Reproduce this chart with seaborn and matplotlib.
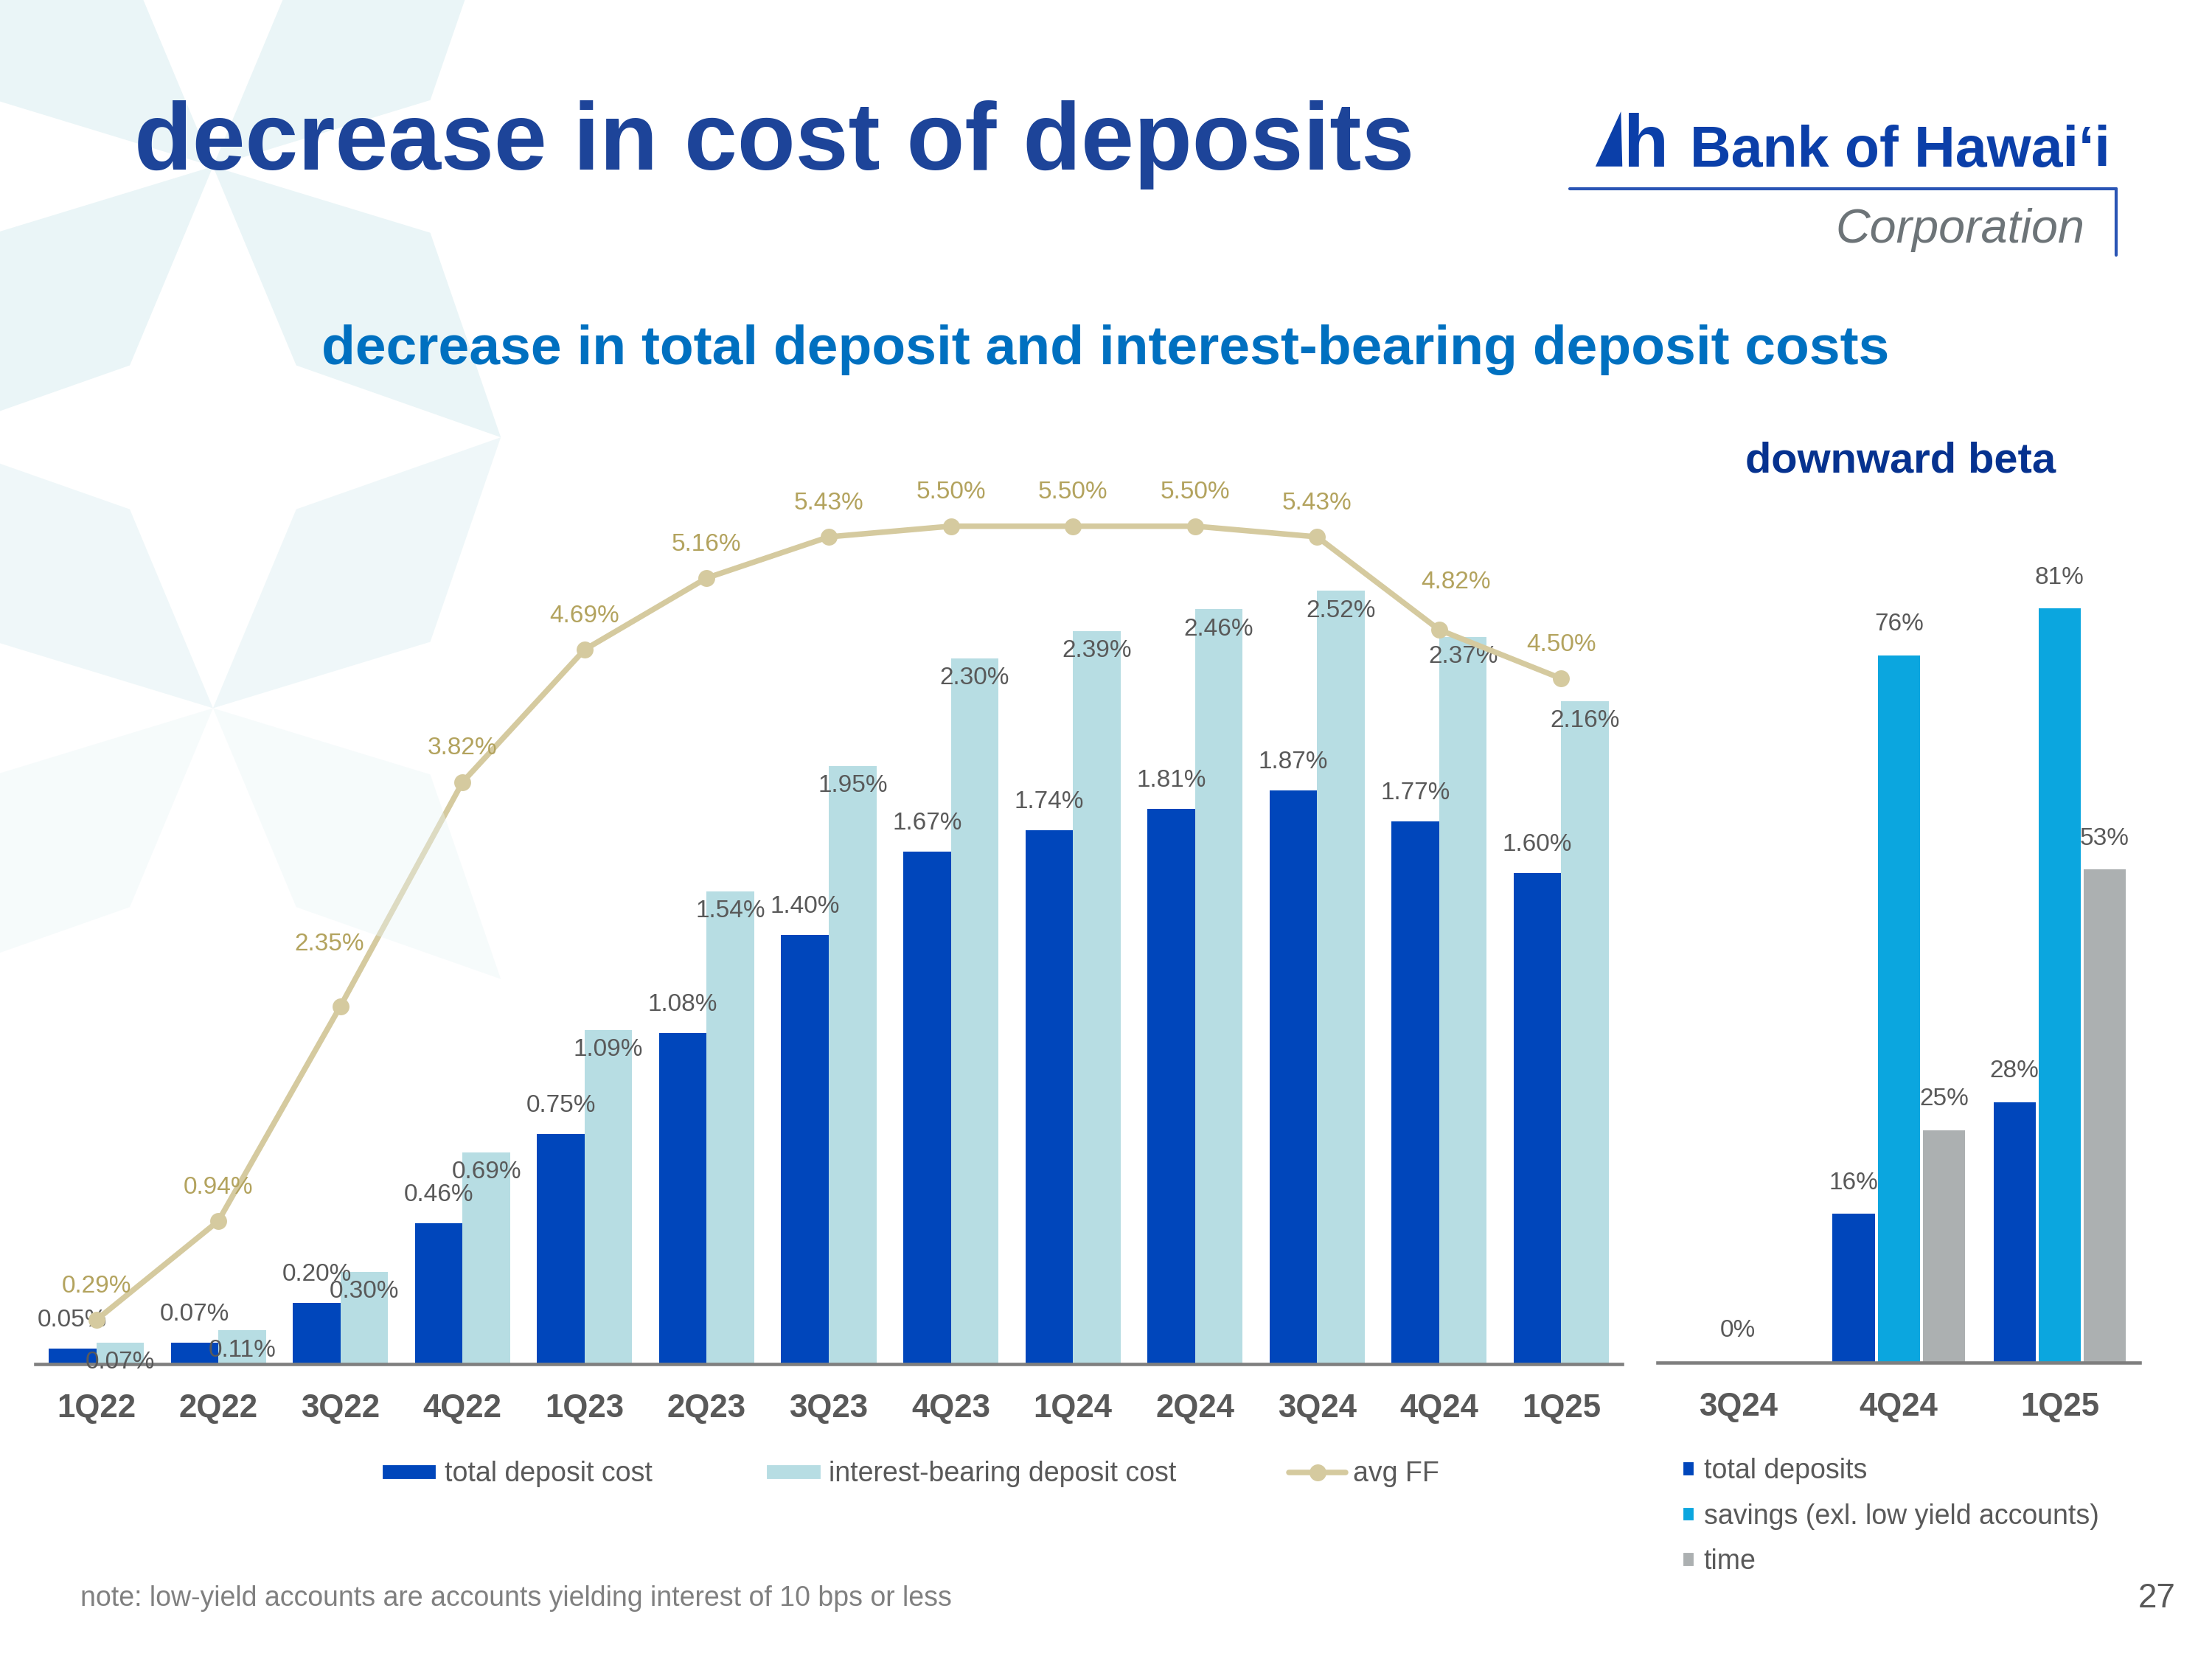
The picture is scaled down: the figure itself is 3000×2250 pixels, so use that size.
import matplotlib
matplotlib.use("Agg")
import matplotlib.pyplot as plt
from matplotlib.patches import Polygon, Patch
from matplotlib.lines import Line2D
import numpy as np
import pandas as pd
import seaborn as sns

# data
quarters = ['1Q22', '2Q22', '3Q22', '4Q22', '1Q23', '2Q23', '3Q23',
            '4Q23', '1Q24', '2Q24', '3Q24', '4Q24', '1Q25']
total_cost = [0.05, 0.07, 0.20, 0.46, 0.75, 1.08, 1.40, 1.67, 1.74, 1.81, 1.87, 1.77, 1.60]
ib_cost = [0.07, 0.11, 0.30, 0.69, 1.09, 1.54, 1.95, 2.30, 2.39, 2.46, 2.52, 2.37, 2.16]
avg_ff = [0.29, 0.94, 2.35, 3.82, 4.69, 5.16, 5.43, 5.50, 5.50, 5.50, 5.43, 4.82, 4.50]

beta_quarters = ['3Q24', '4Q24', '1Q25']
beta_total = [0, 16, 28]
beta_savings = [0, 76, 81]
beta_time = [0, 25, 53]

cost_series = ['total deposit cost', 'interest-bearing deposit cost']
beta_series = ['total deposits', 'savings (exl. low yield accounts)', 'time']

DARK = '#0046BB'
LIGHT = '#B7DDE3'
FF_LINE = '#D5CA9F'
FF_TEXT = '#B3A35E'
SAV = '#0BA6DF'
TIME = '#ACB0B1'
GRAY = '#595959'

sns.set_theme(style='white')
plt.rcParams['font.family'] = ['Liberation Sans', 'DejaVu Sans']

fig = plt.figure(figsize=(10, 7.5), dpi=300)
fig.patch.set_facecolor('white')

W, H = 1568.0, 1176.0
def fx(x):
    return x / W
def fy(y):
    return 1 - y / H

# background star pattern (light kites)
def kite(px, py, sx, sy):
    pts = [(px, py), (px + sx * 59, py + sy * 141), (px + sx * 204, py + sy * 192),
           (px + sx * 154, py + sy * 47)]
    return [(fx(a), fy(b)) for a, b in pts]

for (cx, cy), alpha in [((151, 118), 1.0), ((151, 502), 0.75)]:
    for sx in (-1, 1):
        for sy in (-1, 1):
            a = alpha if not (cy > 300 and sy > 0) else 0.4
            fig.patches.append(Polygon(kite(cx, cy, sx, sy), closed=True,
                                       transform=fig.transFigure, facecolor='#EAF5F7',
                                       edgecolor='none', alpha=a, zorder=0))

# left chart
ax = fig.add_axes([fx(25), fy(967), fx(1150) - fx(25), (967 - 340) / H])
ax.patch.set_alpha(0)
df = pd.DataFrame({
    'quarter': quarters * 2,
    'series': [cost_series[0]] * len(quarters) + [cost_series[1]] * len(quarters),
    'value': total_cost + ib_cost,
})
sns.barplot(data=df, x='quarter', y='value', hue='series', palette=[DARK, LIGHT],
            width=0.78, saturation=1, legend=False, linewidth=0, ax=ax)
ax.set_ylim(0, 627 / 217.5)
ax.set_xlim(-0.5, len(quarters) - 0.5)

offsets = [9.2, -6.4]
for cont, off in zip(ax.containers, offsets):
    for bar in cont:
        v = bar.get_height()
        ax.annotate(f'{v:.2f}%', (bar.get_x() + bar.get_width() / 2, v),
                    xytext=(0, off), textcoords='offset points', ha='center',
                    va='center', fontsize=8, color=GRAY, zorder=5)

ax2 = ax.twinx()
ax2.patch.set_alpha(0)
sns.lineplot(x=np.arange(len(quarters)), y=avg_ff, color=FF_LINE, lw=1.8, marker='o',
             markersize=5.5, markeredgewidth=0, ax=ax2)
ax2.set_ylim(0, 627 / 108)
ax2.set_xlim(-0.5, len(quarters) - 0.5)
ff_nudge = {2: (-3.7, 9.2), 11: (5.5, 4.6)}
for i, v in enumerate(avg_ff):
    dx, dy = ff_nudge.get(i, (0, 0))
    ax2.annotate(f'{v:.2f}%', (i, v), xytext=(dx, 11 + dy), textcoords='offset points',
                 ha='center', va='center', fontsize=8, color=FF_TEXT)

for a in (ax, ax2):
    for s in ['left', 'right', 'top']:
        a.spines[s].set_visible(False)
    a.set_yticks([])
    a.set_xlabel('')
    a.set_ylabel('')
ax2.spines['bottom'].set_visible(False)
ax.spines['bottom'].set_color('#7F7F7F')
ax.spines['bottom'].set_linewidth(1.1)
ax.tick_params(axis='x', length=0, pad=9.5, labelsize=10.5, labelcolor=GRAY)
ax2.tick_params(axis='x', length=0, labelbottom=False)
for lbl in ax.get_xticklabels():
    lbl.set_fontweight('bold')

# right chart
axr = fig.add_axes([fx(1175), fy(966), (1517 - 1175) / W, (966 - 340) / H])
axr.patch.set_alpha(0)
dfr = pd.DataFrame({
    'quarter': beta_quarters * 3,
    'series': sum([[s] * len(beta_quarters) for s in beta_series], []),
    'value': beta_total + beta_savings + beta_time,
})
sns.barplot(data=dfr, x='quarter', y='value', hue='series', palette=[DARK, SAV, TIME],
            width=0.84, gap=0.06, saturation=1, legend=False, linewidth=0, ax=axr)
axr.set_ylim(0, 626 / 6.6)
axr.set_xlim(-0.5, len(beta_quarters) - 0.5)
groups = list(zip(beta_total, beta_savings, beta_time))
for cont in axr.containers:
    for i, bar in enumerate(cont):
        if max(groups[i]) == 0:
            continue
        v = bar.get_height()
        axr.annotate(f'{v:.0f}%', (bar.get_x() + bar.get_width() / 2, v),
                     xytext=(0, 10), textcoords='offset points', ha='center',
                     va='center', fontsize=8, color=GRAY)
for i, g in enumerate(groups):
    if max(g) == 0:
        axr.annotate('0%', (i, 0), xytext=(0, 10.5), textcoords='offset points',
                     ha='center', va='center', fontsize=8, color=GRAY)
for s in ['left', 'right', 'top']:
    axr.spines[s].set_visible(False)
axr.spines['bottom'].set_color('#7F7F7F')
axr.spines['bottom'].set_linewidth(1.1)
axr.set_yticks([])
axr.set_xlabel('')
axr.set_ylabel('')
axr.tick_params(axis='x', length=0, pad=9.5, labelsize=10.5, labelcolor=GRAY)
for lbl in axr.get_xticklabels():
    lbl.set_fontweight('bold')

# legends
h_left = [Patch(facecolor=DARK), Patch(facecolor=LIGHT),
          Line2D([], [], color=FF_LINE, lw=1.8, marker='o', markersize=5.5, markeredgewidth=0)]
fig.legend(h_left, cost_series + ['avg FF'], loc='center left',
           bbox_to_anchor=(fx(270), fy(1045)), ncol=3, frameon=False, fontsize=9,
           handlelength=2.05, handleheight=0.56, handletextpad=0.25, columnspacing=4.08,
           borderpad=0, borderaxespad=0, labelcolor=GRAY)
h_right = [Patch(facecolor=c) for c in (DARK, SAV, TIME)]
fig.legend(h_right, beta_series, loc='center left', bbox_to_anchor=(fx(1192), fy(1075)),
           ncol=1, frameon=False, fontsize=9, handlelength=0.5, handleheight=0.5,
           handletextpad=0.3, labelspacing=0.68, borderpad=0, borderaxespad=0,
           labelcolor=GRAY)

# titles and notes
fig.text(fx(95), fy(120), 'decrease in cost of deposits', fontsize=31, fontweight='bold',
         color='#1D4499', va='baseline', ha='left')
fig.text(fx(783.5), fy(258), 'decrease in total deposit and interest-bearing deposit costs',
         fontsize=18, fontweight='bold', color='#0070C0', va='baseline', ha='center')
fig.text(fx(1347), fy(335), 'downward beta', fontsize=13.9, fontweight='bold',
         color='#06328F', va='baseline', ha='center')
fig.text(fx(57), fy(1133), 'note: low-yield accounts are accounts yielding interest of 10 bps or less',
         fontsize=9, color='#808080', va='center', ha='left')
fig.text(fx(1542), fy(1133), '27', fontsize=11, color=GRAY, va='center', ha='right')

# logo
LOGO = '#0B3FA9'
fig.patches.append(Polygon([(fx(1131), fy(118)), (fx(1149), fy(79)), (fx(1150), fy(118))],
                           closed=True, transform=fig.transFigure, facecolor=LOGO,
                           edgecolor='none'))
fig.text(fx(1151), fy(118), 'h', fontsize=24, fontweight='bold', color=LOGO,
         va='baseline', ha='left')
fig.text(fx(1198), fy(118), 'Bank of Hawaiʻi', fontsize=18.5, fontweight='bold',
         color=LOGO, va='baseline', ha='left')
fig.add_artist(Line2D([fx(1113), fx(1500)], [fy(134), fy(134)], color='#2A55B5', lw=1,
                      transform=fig.transFigure))
fig.add_artist(Line2D([fx(1500), fx(1500)], [fy(134), fy(181)], color='#2A55B5', lw=1,
                      transform=fig.transFigure))
fig.text(fx(1478), fy(172), 'Corporation', fontsize=15.5, style='italic',
         color='#6D7478', va='baseline', ha='right')

fig.savefig('out.png', dpi=300)
